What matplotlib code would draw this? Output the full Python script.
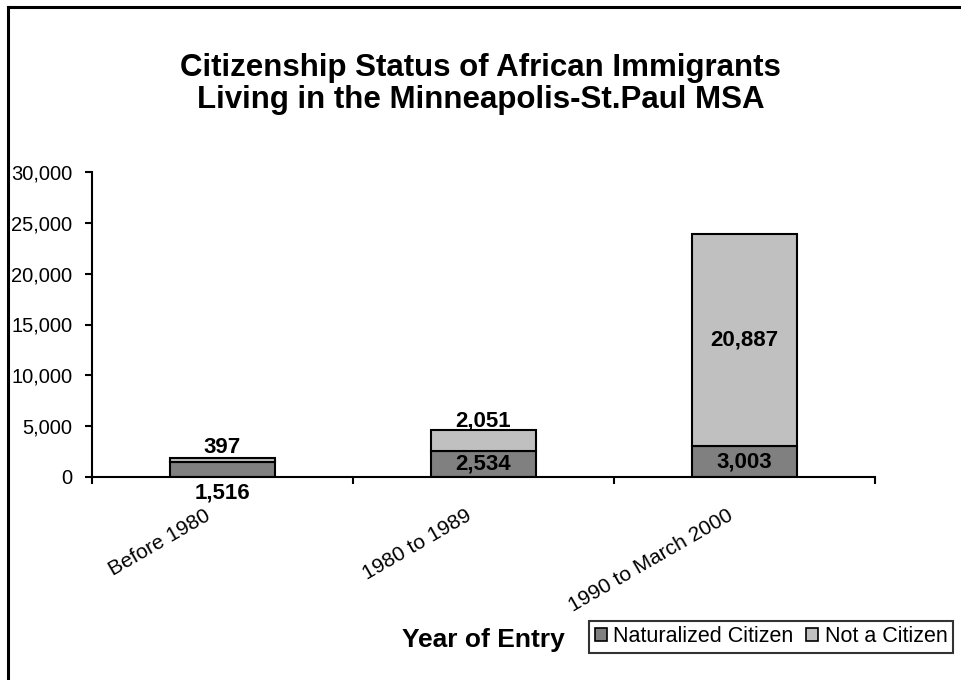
import matplotlib
matplotlib.use("Agg")
import matplotlib.pyplot as plt
from matplotlib.lines import Line2D
from matplotlib.patches import Patch
from matplotlib.ticker import FuncFormatter, FixedLocator
from matplotlib.transforms import ScaledTranslation

plt.rcParams['font.family'] = ['Liberation Sans', 'DejaVu Sans']

periods = ["Before 1980", "1980 to 1989", "1990 to March 2000"]
naturalized = [1516, 2534, 3003]
not_citizen = [397, 2051, 20887]
y_ticks = [0, 5000, 10000, 15000, 20000, 25000, 30000]

grey_dark = "#808080"
grey_light = "#c0c0c0"

fig = plt.figure(figsize=(9.61, 6.8), dpi=100)
ax = fig.add_axes([92 / 961, 1 - 477 / 680, (875 - 92) / 961, (477 - 172) / 680])

x = list(range(len(periods)))
ax.bar(x, naturalized, width=0.4, color=grey_dark, edgecolor="black", linewidth=1.5,
       label="Naturalized Citizen", zorder=2)
ax.bar(x, not_citizen, width=0.4, bottom=naturalized, color=grey_light,
       edgecolor="black", linewidth=1.5, label="Not a Citizen", zorder=2)

# value labels, nudged (in pixels) where a segment is too thin to hold its label
nudge_low = [-24, 0, 0]
nudge_high = [12, 20, 0]
for i in x:
    n, c = naturalized[i], not_citizen[i]
    ax.annotate(f"{n:,}", (i, n / 2), xytext=(0, nudge_low[i] * 0.72),
                textcoords="offset points", ha="center", va="center",
                fontsize=16, fontweight="bold", annotation_clip=False)
    ax.annotate(f"{c:,}", (i, n + c / 2), xytext=(0, nudge_high[i] * 0.72),
                textcoords="offset points", ha="center", va="center",
                fontsize=16, fontweight="bold", annotation_clip=False)

ax.set_xlim(-0.5, 2.5)
ax.set_ylim(0, 30000)
ax.set_yticks(y_ticks)
ax.yaxis.set_major_formatter(FuncFormatter(lambda v, p: f"{int(v):,}"))
ax.tick_params(axis="y", direction="out", length=5, width=1.5, pad=9,
               labelsize=14.5)

ax.set_xticks(x)
ax.set_xticklabels(periods, rotation=30, ha="right", rotation_mode="anchor",
                   fontsize=15)
ax.tick_params(axis="x", which="major", length=0, pad=21)
ax.xaxis.set_minor_locator(FixedLocator([-0.5, 0.5, 1.5, 2.5]))
ax.tick_params(axis="x", which="minor", direction="out", length=5, width=1.5)
shift = ScaledTranslation(-18 / 100, 0, fig.dpi_scale_trans)
for lab in ax.get_xticklabels():
    lab.set_transform(lab.get_transform() + shift)

for side in ("top", "right"):
    ax.spines[side].set_visible(False)
for side in ("left", "bottom"):
    ax.spines[side].set_linewidth(1.5)

fig.text(0.5, 1 - 84 / 680, "Citizenship Status of African Immigrants\nLiving in the Minneapolis-St.Paul MSA",
         ha="center", va="center", fontsize=22.5, fontweight="bold", linespacing=1.1)
fig.text(483 / 961, 1 - 640 / 680, "Year of Entry", ha="center", va="center",
         fontsize=19, fontweight="bold")

handles = [Patch(facecolor=grey_dark, edgecolor="black", linewidth=1.2),
           Patch(facecolor=grey_light, edgecolor="black", linewidth=1.2)]
leg = fig.legend(handles, ["Naturalized Citizen", "Not a Citizen"], ncol=2,
                 loc="center", bbox_to_anchor=(771 / 961, 1 - 637 / 680),
                 fontsize=15.5, frameon=True, fancybox=False, edgecolor="black",
                 handlelength=0.55, handleheight=0.55, handletextpad=0.3,
                 columnspacing=0.6, borderpad=0.25, borderaxespad=0)
leg.get_frame().set_linewidth(1.5)

# outer frame: only its left and top edges fall inside the canvas
fig.add_artist(Line2D([8 / 961, 8 / 961], [0, 1 - 7 / 680], color="black",
                      linewidth=2.2, transform=fig.transFigure))
fig.add_artist(Line2D([8 / 961, 1], [1 - 7 / 680, 1 - 7 / 680], color="black",
                      linewidth=2.2, transform=fig.transFigure))

fig.savefig("out.png", dpi=100)
